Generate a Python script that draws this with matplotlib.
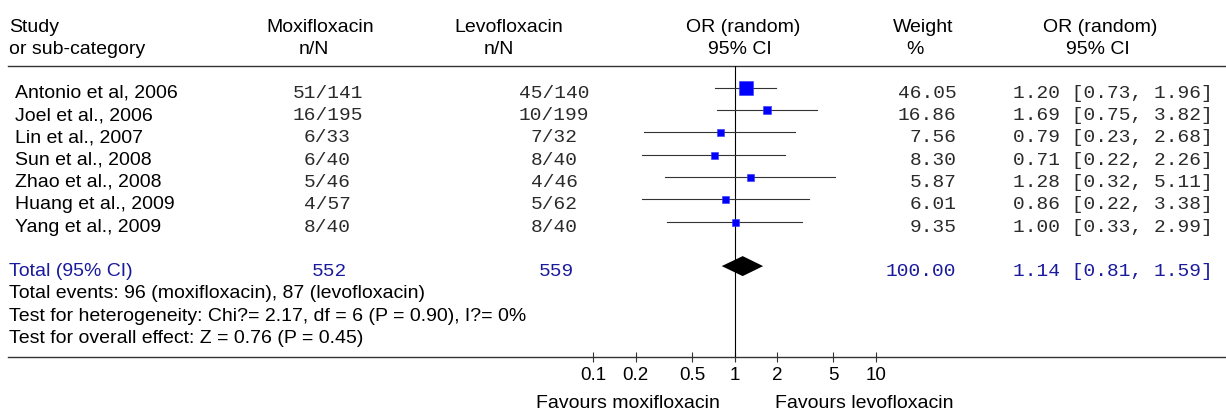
import numpy as np
import matplotlib
matplotlib.use('Agg')
import matplotlib.pyplot as plt
from matplotlib.ticker import NullLocator

# datos del forest plot
estudios = ['Antonio et al, 2006', 'Joel et al., 2006', 'Lin et al., 2007', 'Sun et al., 2008',
            'Zhao et al., 2008', 'Huang et al., 2009', 'Yang et al., 2009']
moxi = ['51/141', '16/195', '6/33', '6/40', '5/46', '4/57', '8/40']
levo = ['45/140', '10/199', '7/32', '8/40', '4/46', '5/62', '8/40']
peso = [46.05, 16.86, 7.56, 8.30, 5.87, 6.01, 9.35]
orr = [1.20, 1.69, 0.79, 0.71, 1.28, 0.86, 1.00]
li = [0.73, 0.75, 0.23, 0.22, 0.32, 0.22, 0.33]
ls = [1.96, 3.82, 2.68, 2.26, 5.11, 3.38, 2.99]

total_moxi = 552
total_levo = 559
total_peso = 100.00
total_or = 1.14
total_li = 0.81
total_ls = 1.59

ticks = [0.1, 0.2, 0.5, 1, 2, 5, 10]
tick_labels = ['0.1', '0.2', '0.5', '1', '2', '5', '10']

notas = ['Total events: 96 (moxifloxacin), 87 (levofloxacin)',
         'Test for heterogeneity: Chi?= 2.17, df = 6 (P = 0.90), I?= 0%',
         'Test for overall effect: Z = 0.76 (P = 0.45)']

plt.rcParams['font.family'] = ['Liberation Sans', 'DejaVu Sans']
sans = 14
mono = {'family': 'Liberation Mono', 'size': 14}
gris = '#2a2a2a'
azul_txt = '#1a1a9c'

W, H = 1226, 412
fig = plt.figure(figsize=(W / 100, H / 100), dpi=100)

# eje de texto en pixeles
ax0 = fig.add_axes([0, 0, 1, 1])
ax0.set_xlim(0, W)
ax0.set_ylim(H, 0)
ax0.axis('off')

fila0 = 87.7   # centro de la primera fila
alto = 22.3    # separacion entre filas
linea_sup = 65.7
linea_inf = 356.7

# encabezados
for txt, x, ha in [('Study', 9, 'left'), ('Moxifloxacin', 320, 'center'), ('Levofloxacin', 509, 'center'),
                   ('OR (random)', 743.5, 'center'), ('Weight', 922.7, 'center'), ('OR (random)', 1100.5, 'center')]:
    ax0.text(x, 32, txt, ha=ha, va='baseline', fontsize=sans)
for txt, x, ha in [('or sub-category', 9, 'left'), ('n/N', 313.5, 'center'), ('n/N', 499, 'center'),
                   ('95% CI', 740, 'center'), ('%', 915, 'center'), ('95% CI', 1097.5, 'center')]:
    ax0.text(x, 53.5, txt, ha=ha, va='baseline', fontsize=sans)

ax0.plot([8.3, W], [linea_sup, linea_sup], color='#333333', lw=1.0)
ax0.plot([8.3, W], [linea_inf, linea_inf], color='#333333', lw=1.0)

for i in range(len(estudios)):
    yb = fila0 + alto * i + 10
    ax0.text(15, yb, estudios[i], ha='left', va='baseline', fontsize=sans)
    ax0.text(327.5, yb, moxi[i], ha='center', va='baseline', color=gris, **mono)
    ax0.text(554, yb, levo[i], ha='center', va='baseline', color=gris, **mono)
    ax0.text(956.5, yb, '%.2f' % peso[i], ha='right', va='baseline', color=gris, **mono)
    ax0.text(1013, yb, '%.2f [%.2f, %.2f]' % (orr[i], li[i], ls[i]), ha='left', va='baseline',
             color=gris, **mono)

yt = fila0 + alto * 8 + 10
ax0.text(9, yt, 'Total (95% CI)', ha='left', va='baseline', fontsize=sans, color=azul_txt)
ax0.text(329, yt, str(total_moxi), ha='center', va='baseline', color=azul_txt, **mono)
ax0.text(556, yt, str(total_levo), ha='center', va='baseline', color=azul_txt, **mono)
ax0.text(956.5, yt, '%.2f' % total_peso, ha='right', va='baseline', color=azul_txt, **mono)
ax0.text(1013, yt, '%.2f [%.2f, %.2f]' % (total_or, total_li, total_ls), ha='left', va='baseline',
         color=azul_txt, **mono)

for k, nota in enumerate(notas):
    ax0.text(9, yt + alto * (k + 1), nota, ha='left', va='baseline', fontsize=sans)

ax0.text(720, 407.5, 'Favours moxifloxacin', ha='right', va='baseline', fontsize=sans)
ax0.text(775, 407.5, 'Favours levofloxacin', ha='left', va='baseline', fontsize=sans)

# eje del forest plot (escala log)
x_01, x_10 = 593.3, 876.0
ax = fig.add_axes([x_01 / W, 1 - linea_inf / H, (x_10 - x_01) / W, (linea_inf - linea_sup) / H])
ax.patch.set_alpha(0)
ax.set_xscale('log')
ax.set_xlim(0.1, 10)
ax.set_ylim((linea_inf - fila0) / alto, (linea_sup - fila0) / alto)
for s in ax.spines.values():
    s.set_visible(False)
ax.set_yticks([])
ax.set_xticks(ticks)
ax.set_xticklabels(tick_labels)
ax.xaxis.set_minor_locator(NullLocator())
ax.tick_params(axis='x', direction='inout', length=6.5, width=0.8, color='#333333', pad=4.5,
               labelsize=13.5)

ax.axvline(1, color='black', lw=0.8)

for i in range(len(estudios)):
    ax.plot([li[i], ls[i]], [i, i], color='#333333', lw=0.8, clip_on=False)
    lado = max(7.0, 1.93 * np.sqrt(peso[i])) * 0.72
    ax.plot(orr[i], i, marker='s', ms=lado, color='#0000ff', mec='#3333ff', mew=0.4, clip_on=False)

yd = 8
h = 10 / alto
ax.fill([total_li, total_or, total_ls, total_or], [yd, yd - h, yd, yd + h], color='black', lw=0)

plt.savefig('out.png', dpi=100)
